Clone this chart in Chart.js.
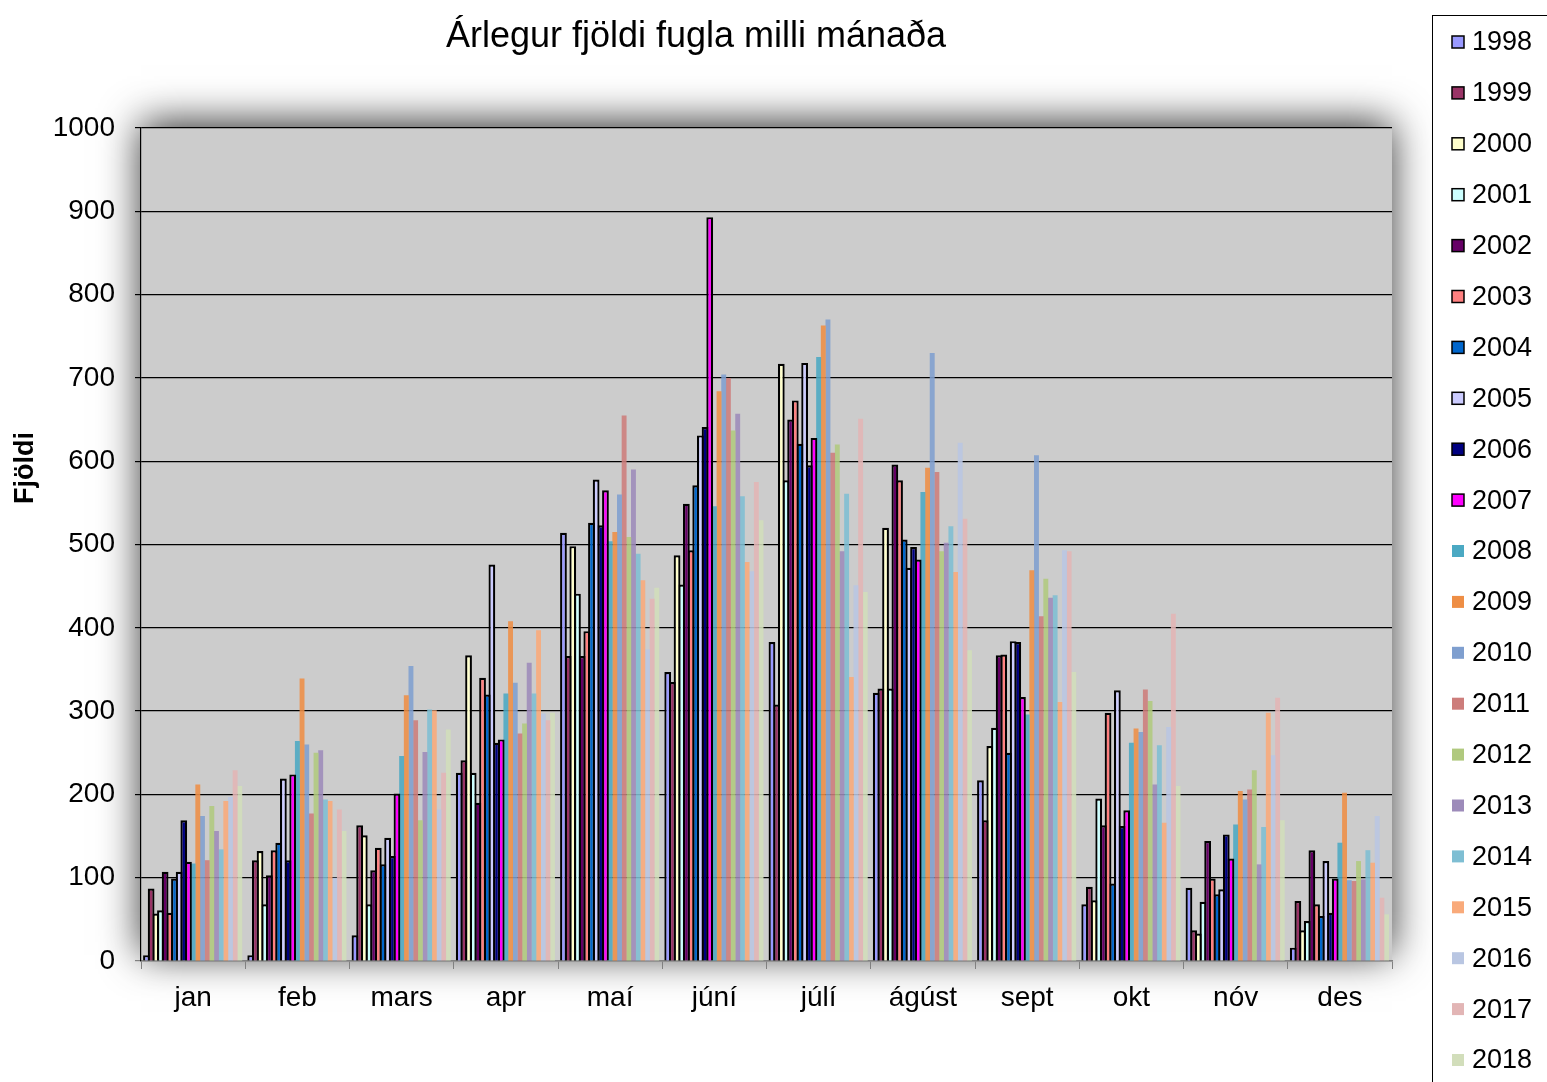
<!DOCTYPE html>
<html>
<head>
<meta charset="utf-8">
<title>Árlegur fjöldi fugla milli mánaða</title>
<script src="https://cdn.jsdelivr.net/npm/chart.js@4.4.1/dist/chart.umd.min.js"></script>
<style>
  html, body { margin: 0; padding: 0; background: #fff; }
  #birdChart { display: block; }
</style>
</head>
<body>
<canvas id="birdChart" width="1547" height="1082"></canvas>
<script>
const months = ['jan', 'feb', 'mars', 'apr', 'maí', 'júní', 'júlí', 'ágúst', 'sept', 'okt', 'nóv', 'des'];
const yTicks = [0, 100, 200, 300, 400, 500, 600, 700, 800, 900, 1000];

// monthly counts, one array per year
const y1998 = [7, 7, 31, 226, 514, 347, 383, 322, 217, 68, 88, 16];
const y1999 = [87, 121, 163, 241, 366, 335, 308, 327, 169, 89, 37, 72];
const y2000 = [57, 132, 151, 367, 498, 487, 717, 520, 258, 73, 33, 37];
const y2001 = [61, 68, 68, 226, 441, 452, 577, 327, 280, 195, 71, 48];
const y2002 = [107, 103, 109, 190, 366, 549, 650, 596, 367, 163, 144, 133];
const y2003 = [58, 133, 136, 340, 396, 493, 673, 577, 368, 298, 99, 68];
const y2004 = [99, 142, 116, 320, 526, 571, 621, 506, 250, 93, 80, 54];
const y2005 = [107, 219, 148, 476, 578, 631, 718, 472, 384, 325, 86, 120];
const y2006 = [169, 121, 126, 262, 523, 641, 595, 497, 383, 162, 152, 58];
const y2007 = [119, 224, 201, 266, 565, 893, 628, 482, 317, 181, 123, 99];
const y2008 = [117, 264, 246, 321, 504, 546, 725, 563, 296, 262, 164, 142];
const y2009 = [212, 339, 319, 408, 515, 684, 763, 592, 469, 279, 204, 202];
const y2010 = [174, 260, 354, 334, 560, 704, 770, 730, 607, 275, 194, 97];
const y2011 = [121, 177, 289, 273, 655, 700, 610, 587, 414, 326, 206, 96];
const y2012 = [186, 250, 169, 285, 509, 637, 620, 492, 459, 312, 229, 120];
const y2013 = [156, 253, 251, 358, 590, 657, 492, 502, 436, 212, 116, 98];
const y2014 = [134, 194, 302, 321, 489, 558, 561, 522, 439, 259, 161, 133];
const y2015 = [192, 192, 301, 397, 457, 479, 341, 467, 311, 166, 298, 118];
const y2016 = [197, 100, 182, 297, 374, 468, 451, 622, 493, 281, 247, 174];
const y2017 = [229, 182, 226, 289, 435, 575, 651, 531, 492, 417, 316, 76];
const y2018 = [210, 156, 278, 298, 448, 529, 443, 373, 347, 210, 169, 56];

const years = ['1998', '1999', '2000', '2001', '2002', '2003', '2004', '2005', '2006', '2007',
  '2008', '2009', '2010', '2011', '2012', '2013', '2014', '2015', '2016', '2017', '2018'];
const yearData = [y1998, y1999, y2000, y2001, y2002, y2003, y2004, y2005, y2006, y2007,
  y2008, y2009, y2010, y2011, y2012, y2013, y2014, y2015, y2016, y2017, y2018];
const yearColors = ['#9999FF', '#993366', '#FFFFCC', '#CCFFFF', '#660066', '#FF8080', '#0066CC',
  '#CCCCFF', '#000080', '#FF00FF',
  '#4BA9C3', '#EE8E45', '#7F9FCF', '#CD7D7B', '#B0C97E', '#9D8BBA', '#7EBED3',
  '#F9AA7A', '#B9C6E2', '#E2B5B5', '#D2DEBB'];

const FONT = "'Liberation Sans', Arial, sans-serif";

// first ten years have black outlines, the rest are flat and slightly see-through
const datasets = years.map((yr, i) => ({
  label: yr,
  data: yearData[i],
  backgroundColor: i < 10 ? yearColors[i] : yearColors[i] + 'E0',
  borderColor: '#000',
  borderWidth: i < 10 ? 2.2 : 0,
  borderSkipped: 'bottom',
  barPercentage: i < 10 ? 1.45 : 1.05,
  categoryPercentage: 0.94
}));

// grey plot area with a soft dark glow behind it
const plotBackground = {
  id: 'plotBackground',
  beforeDraw(chart) {
    const { ctx, chartArea: a } = chart;
    ctx.save();
    ctx.shadowColor = 'rgba(0,0,0,0.8)';
    ctx.shadowBlur = 38;
    ctx.shadowOffsetY = -6;
    ctx.fillStyle = '#CCCCCC';
    ctx.fillRect(a.left, a.top, a.right - a.left, a.bottom - a.top);
    ctx.restore();
  }
};

// y axis title sits above the middle of the axis, legend box on the far right
const extras = {
  id: 'extras',
  afterDraw(chart) {
    const ctx = chart.ctx;
    ctx.save();
    ctx.fillStyle = '#000';
    ctx.font = 'bold 27px ' + FONT;
    ctx.textAlign = 'center';
    ctx.textBaseline = 'middle';
    ctx.translate(26, 468);
    ctx.rotate(-Math.PI / 2);
    ctx.fillText('Fjöldi', 0, 0);
    ctx.restore();

    ctx.save();
    ctx.strokeStyle = '#000';
    ctx.lineWidth = 1;
    ctx.fillStyle = '#fff';
    ctx.fillRect(1432.5, 15.5, 200, 1100);
    ctx.strokeRect(1432.5, 15.5, 200, 1100);
    ctx.font = '27px ' + FONT;
    ctx.textBaseline = 'middle';
    ctx.textAlign = 'left';
    chart.data.datasets.forEach((ds, i) => {
      const cy = 42 + i * 50.9;
      ctx.fillStyle = yearColors[i];
      ctx.fillRect(1452, cy - 6, 12, 12);
      if (i < 10) {
        ctx.lineWidth = 1.5;
        ctx.strokeRect(1452, cy - 6, 12, 12);
      }
      ctx.fillStyle = '#000';
      ctx.fillText(ds.label, 1472, cy + 1);
    });
    ctx.restore();
  }
};

new Chart(document.getElementById('birdChart').getContext('2d'), {
  type: 'bar',
  data: { labels: months, datasets: datasets },
  options: {
    responsive: false,
    animation: false,
    layout: { padding: { left: 0, right: 155, top: 0, bottom: 0 } },
    plugins: {
      legend: { display: false },
      tooltip: { enabled: false },
      title: {
        display: true,
        text: 'Árlegur fjöldi fugla milli mánaða',
        color: '#000',
        font: { family: FONT, size: 36, weight: 'normal', lineHeight: 1.1 },
        padding: { top: 17, bottom: 71.4 }
      }
    },
    scales: {
      x: {
        afterFit(scale) { scale.height = 121; },
        grid: { display: true, drawOnChartArea: false, color: '#808080', tickLength: 8, offset: true },
        border: { color: '#808080', width: 1.5 },
        ticks: { color: '#000', font: { family: FONT, size: 28 }, padding: 12 }
      },
      y: {
        min: 0,
        max: 1000,
        afterFit(scale) { scale.width = 141; },
        afterBuildTicks(scale) { scale.ticks = yTicks.map(v => ({ value: v })); },
        grid: {
          color: ctx => (ctx.tick && ctx.tick.value === 0 ? '#808080' : '#000'),
          lineWidth: 1.2,
          tickLength: 6
        },
        border: { color: '#000', width: 1.2 },
        ticks: {
          color: '#000',
          font: { family: FONT, size: 28 },
          padding: 20,
          callback: v => String(v)
        }
      }
    }
  },
  plugins: [plotBackground, extras]
});
</script>
</body>
</html>
